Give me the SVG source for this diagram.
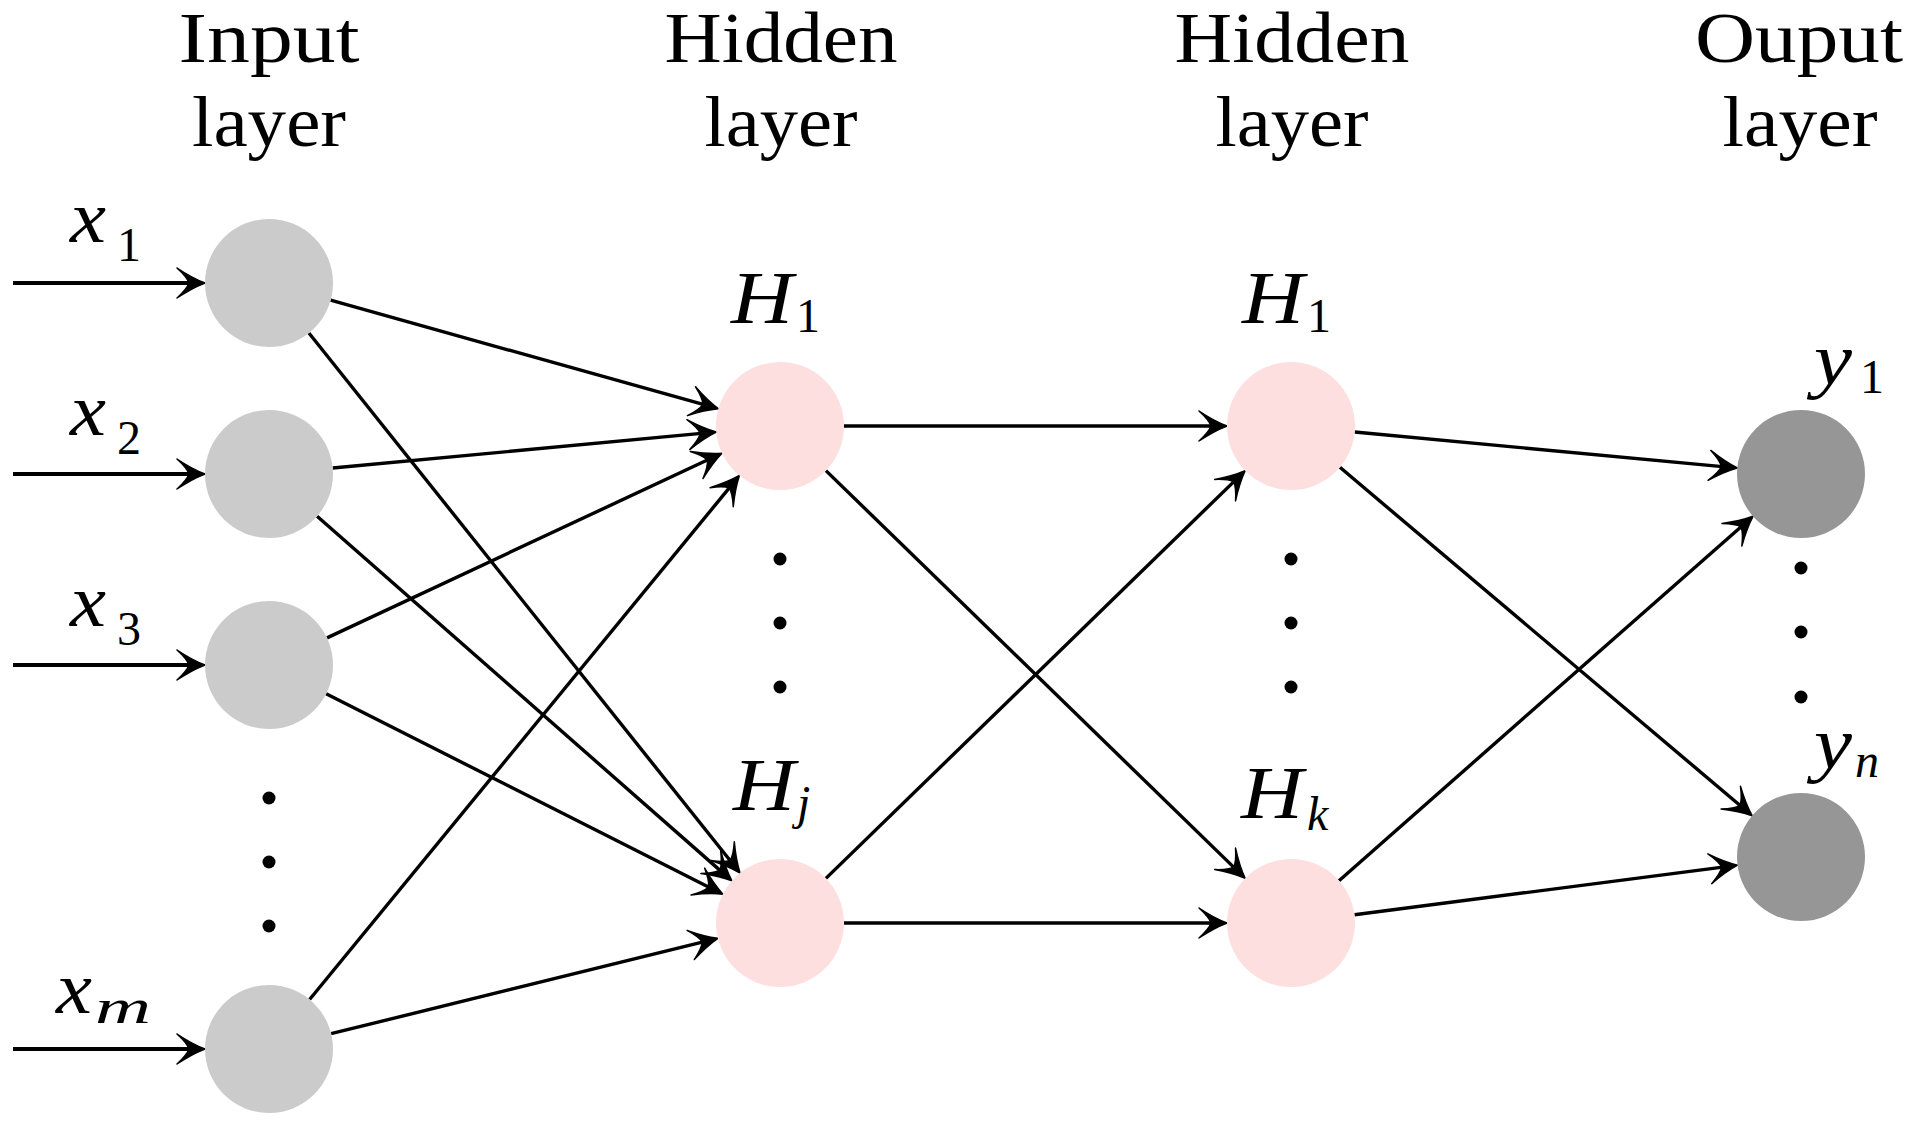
<svg xmlns="http://www.w3.org/2000/svg" width="1920" height="1127" viewBox="0 0 1920 1127">
<style>
.title{font-family:"Liberation Serif","Times New Roman",serif;font-size:72px;fill:#000;text-anchor:middle}
.m{font-family:"Liberation Serif","Times New Roman",serif;font-size:74px;font-style:italic;fill:#000}
.s{font-family:"Liberation Serif","Times New Roman",serif;font-size:48px;fill:#000}
.si{font-family:"Liberation Serif","Times New Roman",serif;font-size:48px;font-style:italic;fill:#000}
.in{fill:#cbcbcb}
.hid{fill:#fddfe0}
.out{fill:#969696}
.e{stroke:#000;stroke-width:3.4;fill:none;marker-end:url(#arr)}
.ia{stroke:#000;stroke-width:4;fill:none;marker-end:url(#arr)}
.dot{fill:#000}
</style>
<defs>
<marker id="arr" markerUnits="userSpaceOnUse" orient="auto" refX="0" refY="0" markerWidth="40" markerHeight="40" overflow="visible">
<path d="M15,0 Q2,-5 -13,-15 Q-3,-6 -1,0 Q-3,6 -13,15 Q2,5 15,0 Z" fill="#000" stroke="#000" stroke-width="1.5" stroke-linejoin="round"/>
</marker>
</defs>
<rect width="1920" height="1127" fill="#fff"/>
<g id="titles">
<text class="title" x="269" y="62" textLength="181" lengthAdjust="spacingAndGlyphs">Input</text>
<text class="title" x="269" y="146" textLength="154" lengthAdjust="spacingAndGlyphs">layer</text>
<text class="title" x="781" y="62" textLength="233" lengthAdjust="spacingAndGlyphs">Hidden</text>
<text class="title" x="781" y="146" textLength="153" lengthAdjust="spacingAndGlyphs">layer</text>
<text class="title" x="1292" y="62" textLength="235" lengthAdjust="spacingAndGlyphs">Hidden</text>
<text class="title" x="1292" y="146" textLength="153" lengthAdjust="spacingAndGlyphs">layer</text>
<text class="title" x="1799" y="62" textLength="208" lengthAdjust="spacingAndGlyphs">Ouput</text>
<text class="title" x="1800" y="146" textLength="155" lengthAdjust="spacingAndGlyphs">layer</text>
</g>
<g id="connectors">
<line class="ia" x1="13" y1="283" x2="190" y2="283"/>
<line class="ia" x1="13" y1="474" x2="190" y2="474"/>
<line class="ia" x1="13" y1="665" x2="190" y2="665"/>
<line class="ia" x1="13" y1="1049" x2="190" y2="1049"/>
<line class="e" x1="330.6" y1="300.2" x2="704.0" y2="404.7"/>
<line class="e" x1="332.7" y1="468.0" x2="701.3" y2="433.4"/>
<line class="e" x1="327.0" y1="637.9" x2="708.4" y2="459.5"/>
<line class="e" x1="309.6" y1="999.5" x2="729.9" y2="487.1"/>
<line class="e" x1="308.9" y1="333.0" x2="730.7" y2="861.3"/>
<line class="e" x1="317.1" y1="516.2" x2="720.6" y2="870.9"/>
<line class="e" x1="326.1" y1="693.8" x2="709.5" y2="887.4"/>
<line class="e" x1="331.1" y1="1033.7" x2="703.3" y2="941.9"/>
<line class="e" x1="844" y1="426" x2="1212" y2="426"/>
<line class="e" x1="825.9" y1="470.6" x2="1234.4" y2="867.9"/>
<line class="e" x1="825.9" y1="878.4" x2="1234.4" y2="481.1"/>
<line class="e" x1="844" y1="923" x2="1212" y2="923"/>
<line class="e" x1="1354.7" y1="432.0" x2="1722.4" y2="466.6"/>
<line class="e" x1="1339.9" y1="467.3" x2="1740.7" y2="806.0"/>
<line class="e" x1="1339.0" y1="880.7" x2="1741.7" y2="526.2"/>
<line class="e" x1="1354.5" y1="914.8" x2="1722.7" y2="867.1"/>
</g>
<g id="input-1"><circle class="in" cx="269" cy="283" r="64"/><text class="m" x="70" y="242" textLength="36" lengthAdjust="spacingAndGlyphs">x</text><text class="s" x="117" y="261">1</text></g>
<g id="input-2"><circle class="in" cx="269" cy="474" r="64"/><text class="m" x="70" y="435" textLength="36" lengthAdjust="spacingAndGlyphs">x</text><text class="s" x="117" y="454">2</text></g>
<g id="input-3"><circle class="in" cx="269" cy="665" r="64"/><text class="m" x="70" y="626" textLength="36" lengthAdjust="spacingAndGlyphs">x</text><text class="s" x="117" y="645">3</text></g>
<g id="input-dots"><circle class="dot" cx="269" cy="798" r="6.5"/><circle class="dot" cx="269" cy="862" r="6.5"/><circle class="dot" cx="269" cy="926" r="6.5"/></g>
<g id="input-m"><circle class="in" cx="269" cy="1049" r="64"/><text class="m" x="56" y="1013" textLength="36" lengthAdjust="spacingAndGlyphs">x</text><text class="si" x="95" y="1023" textLength="56" lengthAdjust="spacingAndGlyphs">m</text></g>
<g id="hidden1-1"><circle class="hid" cx="780" cy="426" r="64"/><text class="m" x="731" y="323" textLength="62" lengthAdjust="spacingAndGlyphs">H</text><text class="s" x="796" y="332">1</text></g>
<g id="hidden1-dots"><circle class="dot" cx="780" cy="559" r="6.5"/><circle class="dot" cx="780" cy="623" r="6.5"/><circle class="dot" cx="780" cy="687" r="6.5"/></g>
<g id="hidden1-j"><circle class="hid" cx="780" cy="923" r="64"/><text class="m" x="733" y="810" textLength="62" lengthAdjust="spacingAndGlyphs">H</text><text class="si" x="797" y="819">j</text></g>
<g id="hidden2-1"><circle class="hid" cx="1291" cy="426" r="64"/><text class="m" x="1242" y="323" textLength="62" lengthAdjust="spacingAndGlyphs">H</text><text class="s" x="1307" y="332">1</text></g>
<g id="hidden2-dots"><circle class="dot" cx="1291" cy="559" r="6.5"/><circle class="dot" cx="1291" cy="623" r="6.5"/><circle class="dot" cx="1291" cy="687" r="6.5"/></g>
<g id="hidden2-k"><circle class="hid" cx="1291" cy="923" r="64"/><text class="m" x="1241" y="818" textLength="62" lengthAdjust="spacingAndGlyphs">H</text><text class="si" x="1307" y="830">k</text></g>
<g id="output-1"><circle class="out" cx="1801" cy="474" r="64"/><text class="m" x="1814" y="384" textLength="38" lengthAdjust="spacingAndGlyphs">y</text><text class="s" x="1860" y="393">1</text></g>
<g id="output-dots"><circle class="dot" cx="1801" cy="568" r="6.5"/><circle class="dot" cx="1801" cy="632" r="6.5"/><circle class="dot" cx="1801" cy="697" r="6.5"/></g>
<g id="output-n"><circle class="out" cx="1801" cy="857" r="64"/><text class="m" x="1814" y="768" textLength="38" lengthAdjust="spacingAndGlyphs">y</text><text class="si" x="1855" y="777">n</text></g>
</svg>
